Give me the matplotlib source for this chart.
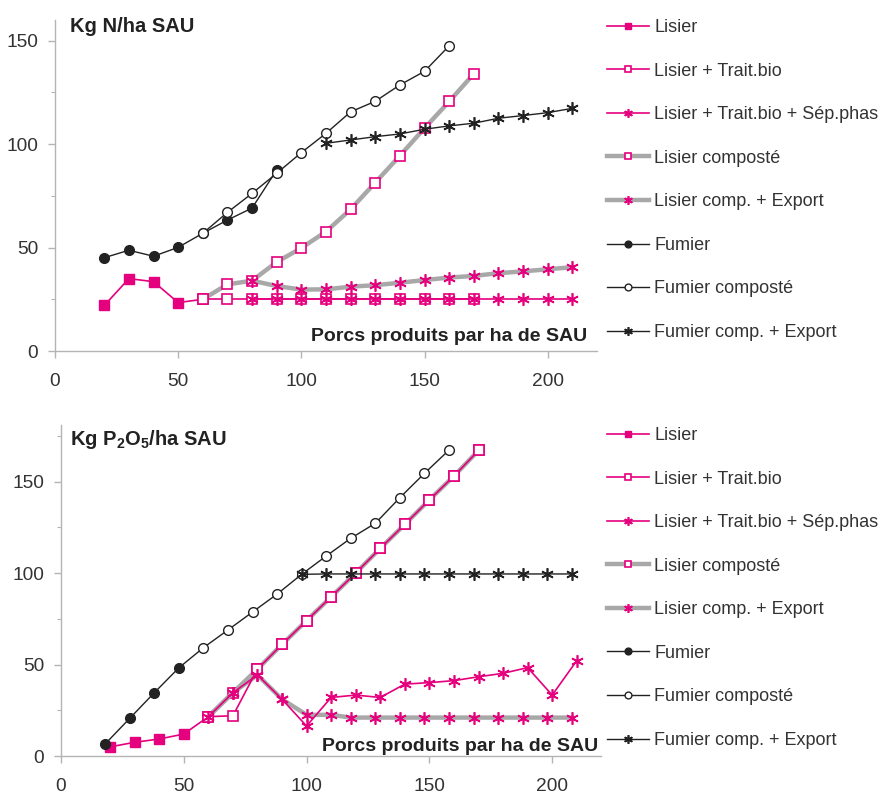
import matplotlib
matplotlib.use("Agg")
import matplotlib.pyplot as plt
from matplotlib.lines import Line2D
from matplotlib.ticker import MultipleLocator

plt.rcParams['font.family'] = ['Liberation Sans', 'DejaVu Sans']
plt.rcParams['mathtext.default'] = 'regular'

PINK = '#e5007d'
GRAY = '#a8a8a8'
BLACK = '#222222'
SPINE = '#b4b4b4'

# ---------------- Data: top chart (Kg N/ha SAU) ----------------
n_lisier_x = [20, 30, 40, 50, 60]
n_lisier_y = [22, 35, 33.5, 23.4, 25]
n_tb_x = [60, 70, 80, 90, 100, 110, 120, 130, 140, 150, 160, 170]
n_tb_y = [25, 25, 25, 25, 25, 25, 25, 25, 25, 25, 25, 25]
n_sep_x = [80, 90, 100, 110, 120, 130, 140, 150, 160, 170, 180, 190, 200, 210]
n_sep_y = [25, 25, 25, 25, 25, 25, 25, 25, 25, 25, 25, 25, 25, 25]
n_comp_x = [60, 70, 80, 90, 100, 110, 120, 130, 140, 150, 160, 170]
n_comp_y = [25, 32.2, 34, 43, 49.8, 57.7, 68.5, 81.4, 94.4, 107.7, 120.6, 134]
n_compexp_x = [80, 90, 100, 110, 120, 130, 140, 150, 160, 170, 180, 190, 200, 210]
n_compexp_y = [34, 31.4, 29.7, 29.8, 31.1, 31.8, 33, 34.3, 35.5, 36.3, 37.6, 38.5, 39.5, 40.5]
n_fum_x = [20, 30, 40, 50, 60, 70, 80, 90]
n_fum_y = [45.1, 48.7, 45.8, 50.1, 56.9, 63.3, 69.1, 87.5]
n_fumc_x = [60, 70, 80, 90, 100, 110, 120, 130, 140, 150, 160]
n_fumc_y = [56.9, 67, 76.2, 85.9, 95.9, 105.2, 115.6, 120.7, 128.6, 135.2, 147.5]
n_fumce_x = [110, 120, 130, 140, 150, 160, 170, 180, 190, 200, 210]
n_fumce_y = [100.4, 102, 103.6, 104.9, 107.2, 108.8, 110.1, 112.5, 113.8, 115.2, 117.3]

# ---------------- Data: bottom chart (Kg P2O5/ha SAU) ----------------
p_lisier_x = [20, 30, 40, 50, 60]
p_lisier_y = [5, 7.5, 9.3, 12, 21.5]
p_tb_x = [60, 70, 80, 90, 100, 110, 120, 130, 140, 150, 160, 170]
p_tb_y = [21.5, 22, 47.5, 61, 74, 87, 100, 113.5, 126.6, 140, 153, 167]
p_sep_x = [60, 70, 80, 90, 100, 110, 120, 130, 140, 150, 160, 170, 180, 190, 200, 210]
p_sep_y = [21.5, 34.6, 44.3, 31, 16.4, 32, 33.3, 32, 39.3, 40.1, 41.2, 43.3, 45.2, 48.3, 33.3, 52.1]
p_comp_x = [60, 70, 80, 90, 100, 110, 120, 130, 140, 150, 160, 170]
p_comp_y = [21.5, 34.6, 47.5, 61, 74, 87, 100, 113.5, 126.6, 140, 153, 167]
p_compexp_x = [60, 70, 80, 90, 100, 110, 118, 128, 138, 148, 158, 168, 178, 188, 198, 208]
p_compexp_y = [21.5, 34.6, 44.3, 31, 22.5, 22.5, 21, 21, 21, 21, 21, 21, 21, 21, 21, 21]
p_fum_x = [18, 28, 38, 48, 58]
p_fum_y = [6.6, 20.6, 34.6, 48.2, 59.2]
p_fumc_x = [58, 68, 78, 88, 98, 108, 118, 128, 138, 148, 158]
p_fumc_y = [59.2, 68.9, 78.7, 88.5, 99.3, 109.3, 119, 127.2, 141.2, 154.5, 167.2]
p_fumce_x = [98, 108, 118, 128, 138, 148, 158, 168, 178, 188, 198, 208]
p_fumce_y = [99.3, 99.5, 99.5, 99.5, 99.5, 99.5, 99.5, 99.5, 99.5, 99.5, 99.5, 99.5]

labels = ['Lisier', 'Lisier + Trait.bio', 'Lisier + Trait.bio + Sép.phas',
          'Lisier composté', 'Lisier comp. + Export', 'Fumier',
          'Fumier composté', 'Fumier comp. + Export']

STAR = (6, 2, 0)
styles = [
    dict(color=PINK, lw=1.2, marker='s', ms=6.5, mfc=PINK, mec=PINK),
    dict(color=PINK, lw=1.2, marker='s', ms=6.5, mfc='white', mec=PINK, mew=1.2),
    dict(color=PINK, lw=1.2, marker=STAR, ms=9, mfc=PINK, mec=PINK, mew=1.2),
    dict(color=GRAY, lw=3.2, marker='s', ms=6.5, mfc='white', mec=PINK, mew=1.2),
    dict(color=GRAY, lw=3.2, marker=STAR, ms=9, mfc=PINK, mec=PINK, mew=1.2),
    dict(color=BLACK, lw=1.0, marker='o', ms=7, mfc=BLACK, mec=BLACK),
    dict(color=BLACK, lw=1.0, marker='o', ms=7, mfc='white', mec=BLACK, mew=1.0),
    dict(color=BLACK, lw=1.0, marker=STAR, ms=9, mfc=BLACK, mec=BLACK, mew=1.2),
]

fig = plt.figure(figsize=(8.8, 7.99), dpi=100)


def draw(ax, series, ymax, title, title_pos, xlab_pos):
    order = [3, 4, 0, 1, 2, 5, 6, 7]
    for i in order:
        x, y, mev = series[i]
        ax.plot(x, y, markevery=mev, zorder=2 + order.index(i) * 0.1, clip_on=False, **styles[i])
    ax.set_xlim(0, 220)
    ax.set_ylim(0, ymax)
    ax.xaxis.set_major_locator(MultipleLocator(50))
    ax.yaxis.set_major_locator(MultipleLocator(50))
    ax.yaxis.set_minor_locator(MultipleLocator(25))
    for s in ['top', 'right']:
        ax.spines[s].set_visible(False)
    for s in ['left', 'bottom']:
        ax.spines[s].set_color(SPINE)
        ax.spines[s].set_linewidth(1.0)
    ax.tick_params(axis='both', which='major', colors=SPINE, labelcolor='#333333',
                   labelsize=13.8, length=5, width=1)
    ax.tick_params(axis='y', which='minor', colors=SPINE, length=3, width=0.8)
    ax.tick_params(axis='x', pad=11)
    ax.tick_params(axis='y', pad=7)
    ax.text(title_pos[0], title_pos[1], title, transform=ax.transAxes, fontsize=14.5,
            fontweight='bold', color='#222222', va='center', ha='left')
    ax.text(xlab_pos[0], xlab_pos[1], 'Porcs produits par ha de SAU', transform=ax.transAxes,
            fontsize=14, fontweight='bold', color='#222222', ha='right', va='center')


def legend(y_top):
    handles = [Line2D([], [], **dict(styles[i], ms=styles[i]['ms'] * 0.7)) for i in range(8)]
    fig.legend(handles, labels, loc='upper left', bbox_to_anchor=(0.69, y_top),
               frameon=False, fontsize=13, handlelength=2.3, handletextpad=0.3,
               labelspacing=1.47, borderpad=0, borderaxespad=0, labelcolor='#333333')


ax1 = fig.add_axes([0.0625, 0.5607, 0.6159, 0.4143])
top_series = [
    (n_lisier_x, n_lisier_y, slice(0, 4)),
    (n_tb_x, n_tb_y, None),
    (n_sep_x, n_sep_y, None),
    (n_comp_x, n_comp_y, None),
    (n_compexp_x, n_compexp_y, None),
    (n_fum_x, n_fum_y, None),
    (n_fumc_x, n_fumc_y, None),
    (n_fumce_x, n_fumce_y, None),
]
draw(ax1, top_series, 160, 'Kg N/ha SAU', (0.0277, 0.98), (0.9815, 0.043))
legend(0.976)

ax2 = fig.add_axes([0.0693, 0.0538, 0.614, 0.4145])
bot_series = [
    (p_lisier_x, p_lisier_y, slice(0, 4)),
    (p_tb_x, p_tb_y, None),
    (p_sep_x, p_sep_y, None),
    (p_comp_x, p_comp_y, None),
    (p_compexp_x, p_compexp_y, None),
    (p_fum_x, p_fum_y, slice(0, 4)),
    (p_fumc_x, p_fumc_y, None),
    (p_fumce_x, p_fumce_y, None),
]
draw(ax2, bot_series, 181, r'Kg P$_2$O$_5$/ha SAU', (0.0167, 0.956), (0.994, 0.030))
legend(0.4655)

fig.savefig('out.png', dpi=100)
